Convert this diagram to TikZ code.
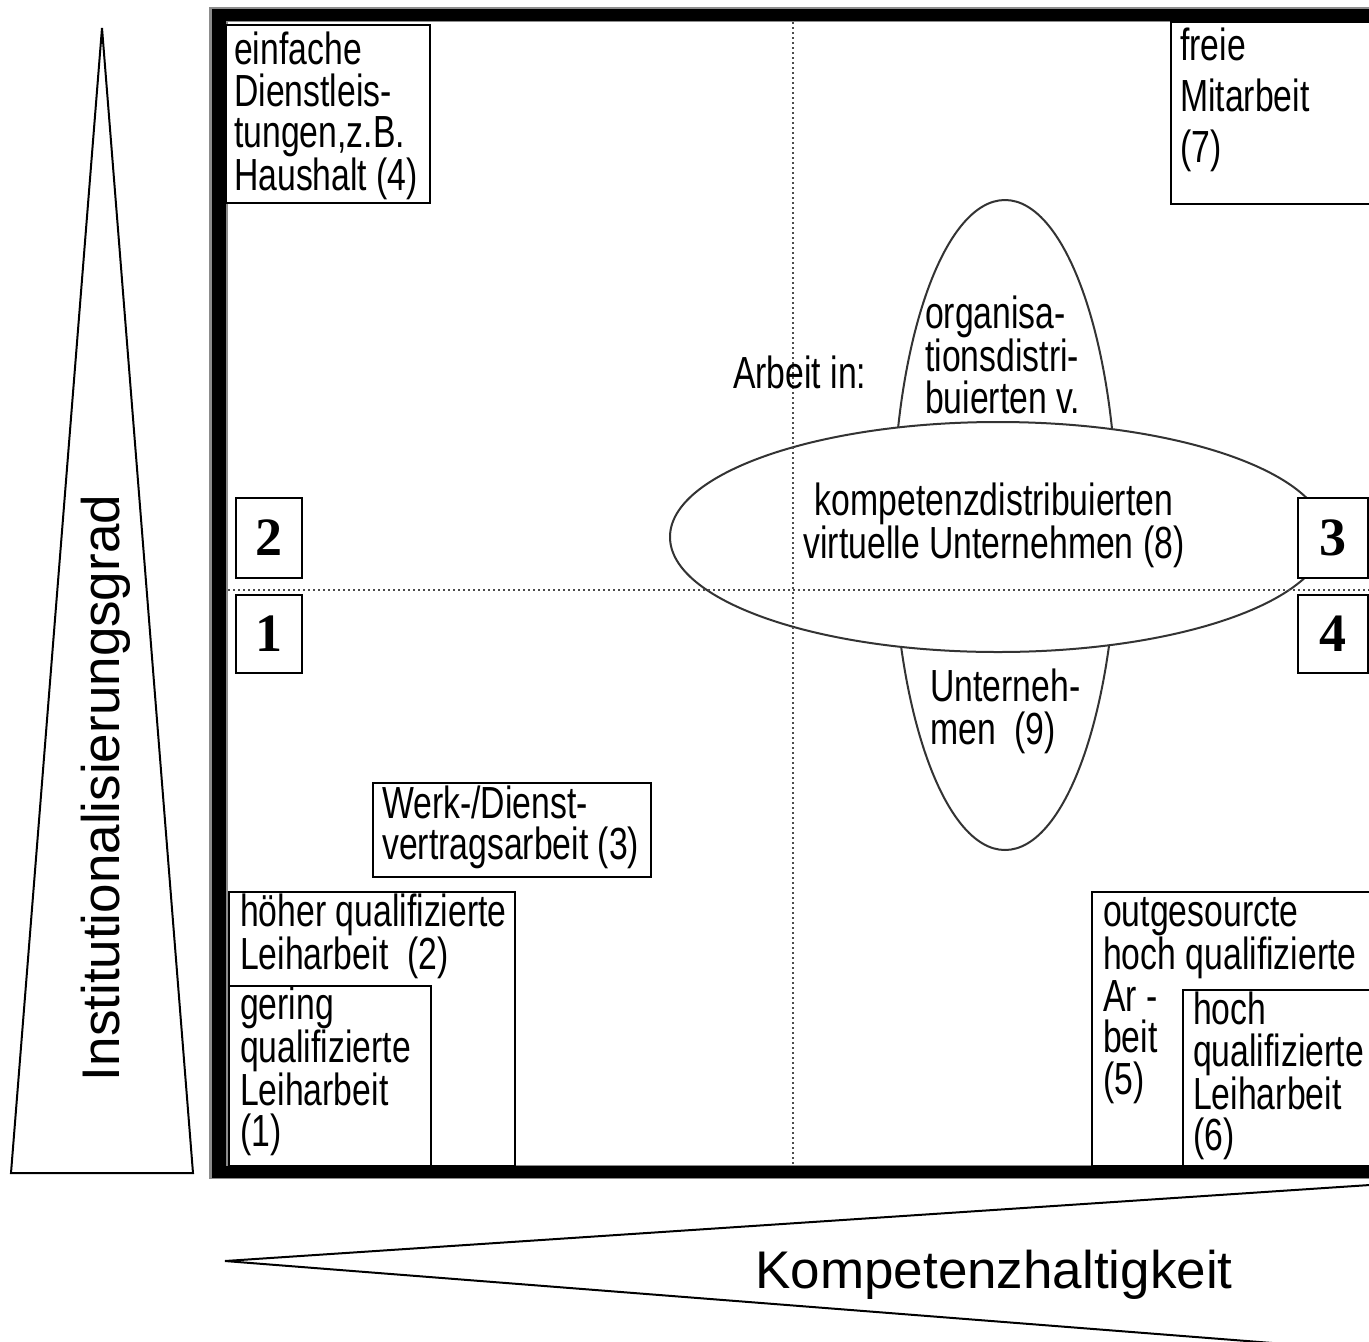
\documentclass[tikz,border=0pt]{standalone}
\usepackage{fontspec}
\setmainfont{Liberation Sans}
\newfontfamily\narrowfont[FakeStretch=0.75]{Liberation Sans}
\newfontfamily\numfont{Liberation Serif}
\begin{document}
\begin{tikzpicture}[x=1pt,y=-1pt,
  txt/.style={font=\narrowfont\fontsize{45}{41.5}\selectfont, inner sep=0, align=left, anchor=base west},
  boxr/.style={draw, line width=2.5, fill=white},
  numbox/.style={draw, line width=2.5, fill=white, inner sep=0, minimum width=66, minimum height=78, font=\numfont\bfseries\fontsize{54}{54}\selectfont},
  dotline/.style={draw=black!70, line width=2, dash pattern=on 2pt off 3pt},
  ell/.style={draw=black!80, line width=2, fill=white},
  tri/.style={draw, line width=2, line join=miter},
  biglabel/.style={font=\fontsize{53}{53}\selectfont, inner sep=0}
]
\useasboundingbox (0,0) rectangle (1369,1342);
\clip (0,0) rectangle (1369,1342);
% triangles
\draw[tri] (102,28) -- (193,1173) -- (11,1173) -- cycle;
\draw[tri] (225,1261) -- (1400,1183) -- (1400,1353) -- cycle;
% frame
\fill[black!45] (209,7) rectangle (1400,1179);
\fill[black] (212,9) rectangle (1400,1178);
\fill[black!45] (226,21) rectangle (1400,1166);
\fill[white] (228,22) rectangle (1400,1165);
% ellipses
\path[ell] (1005,525) ellipse [x radius=112, y radius=325];
\path[ell] (998,537) ellipse [x radius=328, y radius=115];
% dotted axes
\coordinate (vtop) at (793,22);
\coordinate (vbot) at (793,1165);
\coordinate (hl) at (228,590);
\coordinate (hr) at (1369,590);
\draw[dotline] (vtop) -- (vbot);
\draw[dotline] (hl) -- (hr);
% boxes
\draw[boxr] (226,25) rectangle (430,203);
\draw[boxr] (1171,22) rectangle (1400,204);
\draw[boxr] (373,783) rectangle (651,877);
\draw[boxr] (229,892) rectangle (515,1166);
\draw[boxr] (229,986) rectangle (431,1166);
\draw[boxr] (1092,892) rectangle (1400,1166);
\draw[boxr] (1183,990) rectangle (1400,1166);
% number boxes
\node[numbox, minimum height=80] (n2) at (269,538) {2};
\node[numbox] (n1) at (269,634) {1};
\node[numbox, minimum width=70, minimum height=80] (n3) at (1333,538) {3};
\node[numbox, minimum width=70] (n4) at (1333,634) {4};
% texts (anchor = baseline of the last line)
\node[txt] (t4) at (234,190.5) {einfache\\Dienstleis-\\tungen,z.B.\\Haushalt (4)};
\node[txt, font=\narrowfont\fontsize{45}{51}\selectfont] (t7) at (1180,162) {freie\\Mitarbeit\\(7)};
\node[txt] (tarb) at (733,388) {Arbeit in:};
\node[txt] (torg) at (925,413) {organisa-\\tionsdistri-\\buierten v.};
\node[txt, align=center, anchor=base] (tkomp) at (994,558.5) {kompetenzdistribuierten\\virtuelle Unternehmen (8)};
\node[txt, font=\narrowfont\fontsize{45}{43}\selectfont] (tunt) at (930,744) {Unterneh-\\men\ \ (9)};
\node[txt] (twerk) at (382,859.5) {Werk-/Dienst-\\vertragsarbeit (3)};
\node[txt] (thoeher) at (240,969.5) {höher qualifizierte\\Leiharbeit\ \ (2)};
\node[txt] (tgering) at (240,1146.5) {gering\\qualifizierte\\Leiharbeit\\(1)};
\node[txt] (toutg) at (1103,1094) {outgesourcte\\hoch qualifizierte\\Ar -\\beit\\(5)};
\node[txt] (thoch) at (1193,1150.5) {hoch\\qualifizierte\\Leiharbeit\\(6)};
% axis labels
\node[biglabel, rotate=90] (tinst) at (106,788) {Institutionalisierungsgrad};
\node[biglabel, anchor=base] (tkompz) at (994,1288) {Kompetenzhaltigkeit};
\end{tikzpicture}
\end{document}
